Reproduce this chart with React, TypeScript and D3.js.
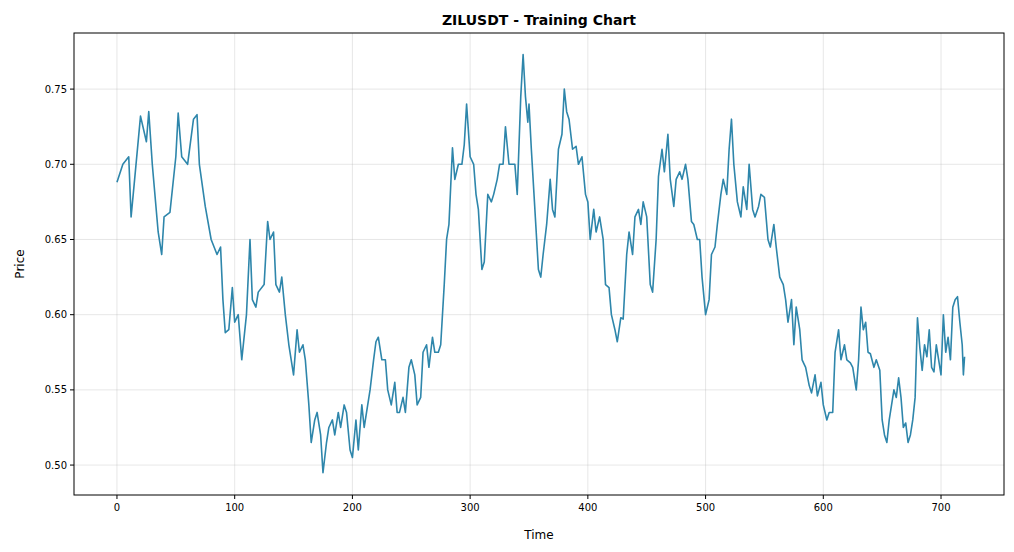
import React from "react";
import * as d3 from "d3";

const times = [0,5,10,12,15,20,25,27,30,35,38,40,45,50,52,55,60,65,68,70,75,80,85,88,90,92,95,98,100,103,106,110,113,115,118,120,125,128,130,133,135,138,140,143,146,150,153,155,158,160,163,165,168,170,173,175,178,180,183,185,188,190,193,195,198,200,203,205,208,210,213,215,218,220,222,225,228,230,233,236,238,240,243,245,248,250,253,255,258,260,263,265,268,270,273,275,278,280,282,285,287,290,293,295,297,300,303,305,307,310,312,315,318,320,323,325,328,330,333,335,338,340,343,345,347,349,350,352,355,358,360,362,365,368,370,372,375,378,380,382,384,387,390,392,395,398,400,402,405,407,410,413,415,418,420,423,425,428,430,433,435,438,440,443,445,447,450,453,455,458,460,463,465,468,470,473,475,478,480,483,485,488,490,493,495,497,500,503,505,508,510,513,515,518,520,522,524,527,530,532,535,537,540,542,545,547,550,553,555,558,560,563,566,568,570,573,575,577,580,582,585,588,590,593,595,598,600,603,605,608,610,613,615,618,620,623,625,628,630,632,634,636,638,640,643,645,648,650,652,654,656,658,660,662,664,666,668,670,672,674,676,678,680,682,684,686,688,690,692,694,696,698,700,702,704,706,708,710,712,714,716,718,719,720];
const prices = [0.688,0.700,0.705,0.665,0.690,0.732,0.715,0.735,0.700,0.655,0.640,0.665,0.668,0.705,0.734,0.705,0.700,0.730,0.733,0.700,0.672,0.650,0.640,0.645,0.610,0.588,0.590,0.618,0.595,0.600,0.570,0.600,0.650,0.610,0.605,0.615,0.620,0.662,0.650,0.655,0.620,0.615,0.625,0.600,0.580,0.560,0.590,0.575,0.580,0.570,0.540,0.515,0.530,0.535,0.520,0.495,0.515,0.525,0.530,0.520,0.535,0.525,0.540,0.535,0.510,0.505,0.530,0.510,0.540,0.525,0.540,0.550,0.570,0.582,0.585,0.570,0.570,0.550,0.540,0.555,0.535,0.535,0.545,0.535,0.565,0.570,0.560,0.540,0.545,0.575,0.580,0.565,0.585,0.575,0.575,0.580,0.620,0.650,0.660,0.711,0.690,0.700,0.700,0.713,0.740,0.705,0.700,0.680,0.670,0.630,0.635,0.680,0.675,0.680,0.690,0.700,0.700,0.725,0.700,0.700,0.700,0.680,0.745,0.773,0.745,0.728,0.740,0.710,0.670,0.630,0.625,0.640,0.660,0.690,0.670,0.665,0.710,0.720,0.750,0.735,0.730,0.710,0.712,0.700,0.705,0.680,0.675,0.650,0.670,0.655,0.665,0.650,0.620,0.618,0.600,0.590,0.582,0.598,0.597,0.640,0.655,0.640,0.665,0.670,0.660,0.675,0.665,0.620,0.615,0.650,0.692,0.710,0.695,0.720,0.690,0.672,0.690,0.695,0.690,0.700,0.690,0.662,0.660,0.650,0.650,0.625,0.600,0.610,0.640,0.645,0.660,0.680,0.690,0.680,0.710,0.730,0.700,0.675,0.665,0.685,0.670,0.700,0.670,0.665,0.672,0.680,0.678,0.650,0.645,0.660,0.645,0.625,0.620,0.610,0.595,0.610,0.580,0.605,0.590,0.570,0.565,0.553,0.548,0.560,0.546,0.555,0.540,0.530,0.535,0.535,0.575,0.590,0.570,0.580,0.570,0.568,0.565,0.550,0.570,0.605,0.590,0.595,0.575,0.574,0.565,0.570,0.563,0.530,0.520,0.515,0.530,0.540,0.550,0.545,0.558,0.545,0.525,0.528,0.515,0.520,0.530,0.545,0.598,0.578,0.563,0.580,0.572,0.590,0.565,0.562,0.580,0.570,0.560,0.600,0.575,0.585,0.570,0.605,0.610,0.612,0.595,0.580,0.560,0.572];
const xTicks = [0,100,200,300,400,500,600,700];
const yTicks = [0.5,0.55,0.6,0.65,0.7,0.75];

export default function App() {
  const W = 1014, H = 552;
  const L = 74, R = 1004, T = 33, B = 495;
  const x = d3.scaleLinear().domain([-36.5, 753.5]).range([L, R]);
  const y = d3.scaleLinear().domain([0.4801, 0.7873]).range([B, T]);
  const line = d3.line<number>().x((_, i) => x(times[i])).y((d) => y(d));
  const font = "DejaVu Sans, sans-serif";
  return (
    <svg width={W} height={H} style={{ position: "absolute", left: 0, top: 0, background: "#fff" }} fontFamily={font}>
      {xTicks.map((t) => <line key={"gx" + t} x1={x(t)} x2={x(t)} y1={T} y2={B} stroke="#b0b0b0" strokeOpacity={0.3} />)}
      {yTicks.map((t) => <line key={"gy" + t} x1={L} x2={R} y1={y(t)} y2={y(t)} stroke="#b0b0b0" strokeOpacity={0.3} />)}
      <path d={line(prices) || ""} fill="none" stroke="#2E86AB" strokeWidth={1.6} strokeLinejoin="round" />
      <rect x={L} y={T} width={R - L} height={B - T} fill="none" stroke="#000" strokeWidth={1} />
      {xTicks.map((t) => (
        <g key={"tx" + t}>
          <line x1={x(t)} x2={x(t)} y1={B} y2={B + 4} stroke="#000" />
          <text x={x(t)} y={B + 16} textAnchor="middle" fontSize={10}>{t}</text>
        </g>
      ))}
      {yTicks.map((t) => (
        <g key={"ty" + t}>
          <line x1={L - 4} x2={L} y1={y(t)} y2={y(t)} stroke="#000" />
          <text x={L - 7} y={y(t) + 3.5} textAnchor="end" fontSize={10}>{t.toFixed(2)}</text>
        </g>
      ))}
      <text x={(L + R) / 2} y={539} textAnchor="middle" fontSize={12}>Time</text>
      <text transform={`translate(24,${(T + B) / 2}) rotate(-90)`} textAnchor="middle" fontSize={12}>Price</text>
      <text x={(L + R) / 2} y={25} textAnchor="middle" fontSize={14} fontWeight="bold">ZILUSDT - Training Chart</text>
    </svg>
  );
}
